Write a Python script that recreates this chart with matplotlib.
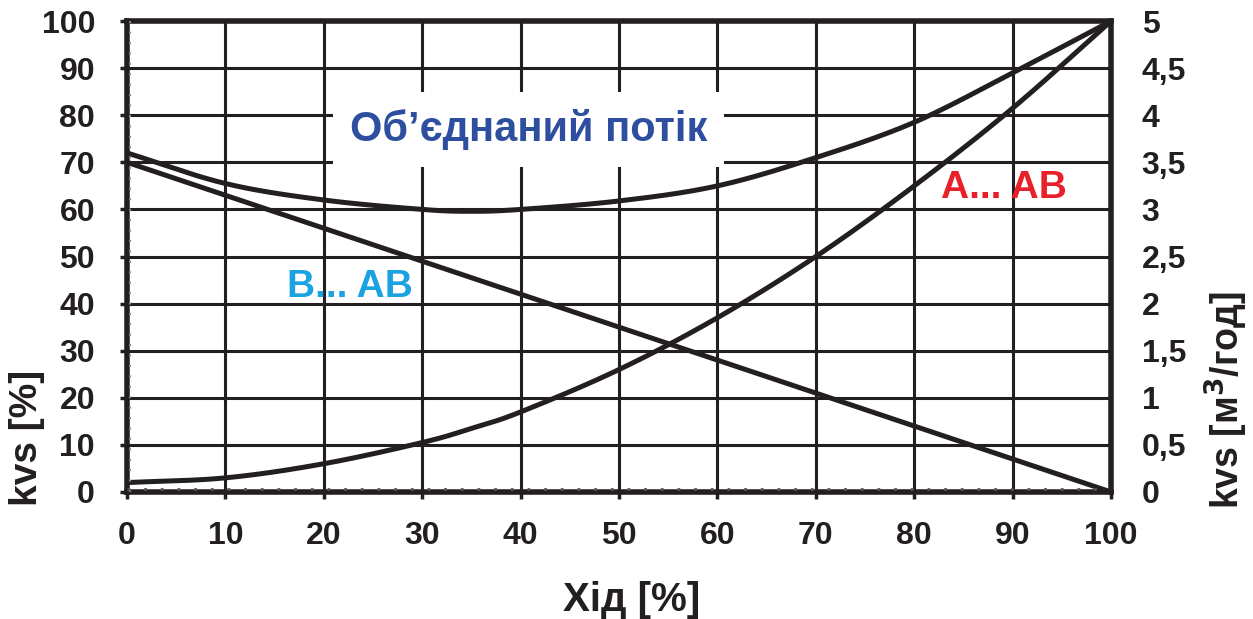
import matplotlib.pyplot as plt
import numpy as np

plt.rcParams['font.family'] = ['Liberation Sans', 'DejaVu Sans']
plt.rcParams['font.weight'] = 'bold'

# stroke [%]
stroke = [0, 10, 20, 30, 35, 40, 50, 60, 70, 80, 90, 100]
# kvs [%] curves
kvs_a_ab = [2, 3, 6, 10.5, 13.5, 17, 26, 37, 50, 65, 81.5, 100]
kvs_b_ab = [70, 63, 56, 49, 45.5, 42, 35, 28, 21, 14, 7, 0]
kvs_total = [72, 65.5, 62, 60, 59.6, 60, 61.8, 65, 71, 78.5, 89, 100]

x_ticks = [0, 10, 20, 30, 40, 50, 60, 70, 80, 90, 100]
y_ticks = [0, 10, 20, 30, 40, 50, 60, 70, 80, 90, 100]
right_ticks = [0, 0.5, 1, 1.5, 2, 2.5, 3, 3.5, 4, 4.5, 5]
right_labels = ['0', '0,5', '1', '1,5', '2', '2,5', '3', '3,5', '4', '4,5', '5']

ink = '#231f20'


def smooth(x, y, n=20):
    # Catmull-Rom through the read points
    p = np.column_stack([x, y]).astype(float)
    p = np.vstack([2 * p[0] - p[1], p, 2 * p[-1] - p[-2]])
    out = []
    t = np.linspace(0, 1, n, endpoint=False)[:, None]
    for i in range(1, len(p) - 2):
        p0, p1, p2, p3 = p[i - 1], p[i], p[i + 1], p[i + 2]
        seg = 0.5 * ((2 * p1) + (-p0 + p2) * t + (2 * p0 - 5 * p1 + 4 * p2 - p3) * t ** 2
                     + (-p0 + 3 * p1 - 3 * p2 + p3) * t ** 3)
        out.append(seg)
    out.append(p[-2][None, :])
    out = np.vstack(out)
    return out[:, 0], out[:, 1]


fig = plt.figure(figsize=(12.53, 6.19), dpi=100)
ax = fig.add_axes([0.1014, 0.2052, 0.7853, 0.7608])

for ys in (kvs_a_ab, kvs_b_ab, kvs_total):
    sx, sy = smooth(stroke, ys)
    ax.plot(sx, sy, color=ink, lw=3.6, zorder=3, solid_capstyle='round')

ax.set_xlim(0, 100)
ax.set_ylim(0, 100)
ax.set_xticks(x_ticks)
ax.set_yticks(y_ticks)
ax.grid(True, color=ink, lw=2.2)
for s in ax.spines.values():
    s.set_linewidth(4)
    s.set_color(ink)
ax.tick_params(axis='both', labelsize=23, colors=ink, width=2.5, length=5)
ax.tick_params(axis='y', pad=18)
ax.tick_params(axis='x', pad=16)
for lab in ax.get_xticklabels() + ax.get_yticklabels():
    lab.set_fontweight('bold')

# dotted lines along the origin edges
ax.plot([0.3, 0.3], [0, 100], color='#888888', lw=1.5, ls=(0, (1, 4)), zorder=4)
ax.plot([0, 100], [0.6, 0.6], color='#555555', lw=2, ls=(0, (1, 5)), zorder=4)

ax2 = ax.twinx()
ax2.set_ylim(0, 5)
ax2.set_yticks(right_ticks)
ax2.set_yticklabels(right_labels, fontweight='bold')
ax2.tick_params(axis='y', labelsize=23, colors=ink, length=0, pad=22)
for s in ax2.spines.values():
    s.set_visible(False)

# axis titles
fig.text(0.5044, 0.0307, 'Хід [%]', fontsize=29, fontweight='bold', color=ink,
         ha='center', va='center')
fig.text(0.0215, 0.292, 'kvs [%]', fontsize=28, fontweight='bold', color=ink,
         rotation=90, ha='center', va='center')
fig.text(0.9785, 0.354, 'kvs [м$^3$/год]', fontsize=27, fontweight='bold', color=ink,
         rotation=90, ha='center', va='center')

ax.text(89.1, 64.5, 'A... AB', color='#e8202a', fontsize=28, fontweight='bold',
        ha='center', va='center', zorder=5)
ax.text(22.7, 43.5, 'B... AB', color='#1aa3e0', fontsize=28, fontweight='bold',
        ha='center', va='center', zorder=5)
ax.text(40.8, 77.0, 'Об’єднаний потік', color='#2e4fa0', fontsize=30, fontweight='bold',
        ha='center', va='center', zorder=5,
        bbox=dict(facecolor='white', edgecolor='none', pad=12))

fig.savefig('out.png', dpi=100)
